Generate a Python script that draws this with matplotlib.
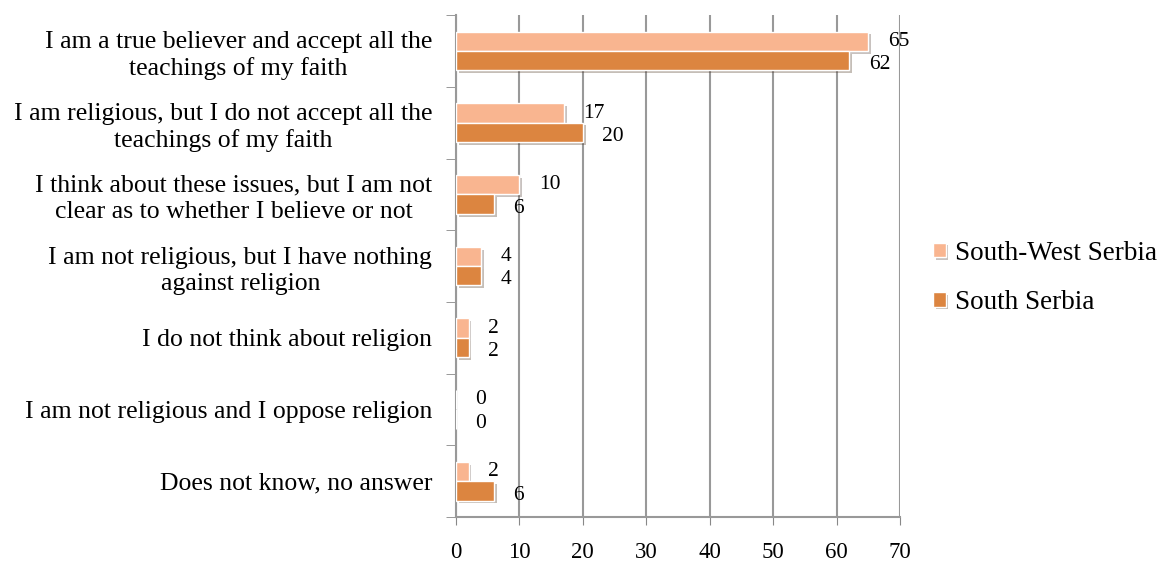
import numpy as np
import matplotlib
matplotlib.use('Agg')
import matplotlib.pyplot as plt
import matplotlib.patheffects as pe

categories = ['I am a true believer and accept all the\nteachings of my faith',
              'I am religious, but I do not accept all the\nteachings of my faith',
              'I think about these issues, but I am not\nclear as to whether I believe or not',
              'I am not religious, but I have nothing\nagainst religion',
              'I do not think about religion',
              'I am not religious and I oppose religion',
              'Does not know, no answer']
south_west = [65, 17, 10, 4, 2, 0, 2]
south = [62, 20, 6, 4, 2, 0, 6]
series_names = ['South-West Serbia', 'South Serbia']

plt.rcParams['font.family'] = ['Liberation Serif', 'DejaVu Serif']

fig = plt.figure(figsize=(11.7, 5.61), dpi=100)
ax = fig.add_axes([0.3897, 0.0784, 0.3795, 0.8946])

n = len(categories)
y = np.arange(n)
h = 0.27
shadow = [pe.SimplePatchShadow(offset=(2, -2), alpha=0.3), pe.Normal()]

b1 = ax.barh(y - h / 2, south_west, height=h, color='#F9B590',
             edgecolor='white', linewidth=1, label=series_names[0], zorder=3)
b2 = ax.barh(y + h / 2, south, height=h, color='#DC8540',
             edgecolor='white', linewidth=1, label=series_names[1], zorder=3)
for b in list(b1) + list(b2):
    b.set_path_effects(shadow)

for i in range(n):
    ax.annotate(str(south_west[i]), (south_west[i], y[i] - h / 2), xytext=(14, 0),
                textcoords='offset points', va='center', ha='left', fontsize=15.5)
    ax.annotate(str(south[i]), (south[i], y[i] + h / 2), xytext=(14, -3),
                textcoords='offset points', va='center', ha='left', fontsize=15.5)

ax.set_xlim(0, 70)
ax.set_ylim(n - 0.5, -0.5)
ax.set_xticks(np.arange(0, 71, 10))
ax.set_yticks(y)
ax.set_yticklabels(categories, fontsize=18.5, ha='right', linespacing=1.25)
ax.set_yticks(np.arange(-0.5, n, 1), minor=True)
ax.tick_params(axis='y', which='major', length=0, pad=17)
ax.tick_params(axis='y', which='minor', length=7, color='#888888')
ax.tick_params(axis='x', length=6, color='#888888', labelsize=16.5, pad=12)
for lbl in ax.get_yticklabels():
    lbl.set_multialignment('center')

ax.grid(axis='x', color='#999999', linewidth=1.5, zorder=0)
ax.set_axisbelow(True)
for s in ['top', 'right']:
    ax.spines[s].set_visible(False)
for s in ['left', 'bottom']:
    ax.spines[s].set_color('#999999')
    ax.spines[s].set_linewidth(1.5)

fig.legend(handles=[b1, b2], loc='center left', bbox_to_anchor=(0.777, 0.505),
           frameon=False, fontsize=19.5, handlelength=0.45, handleheight=0.45,
           labelspacing=0.9, handletextpad=0.35)

fig.savefig('out.png', dpi=100)
